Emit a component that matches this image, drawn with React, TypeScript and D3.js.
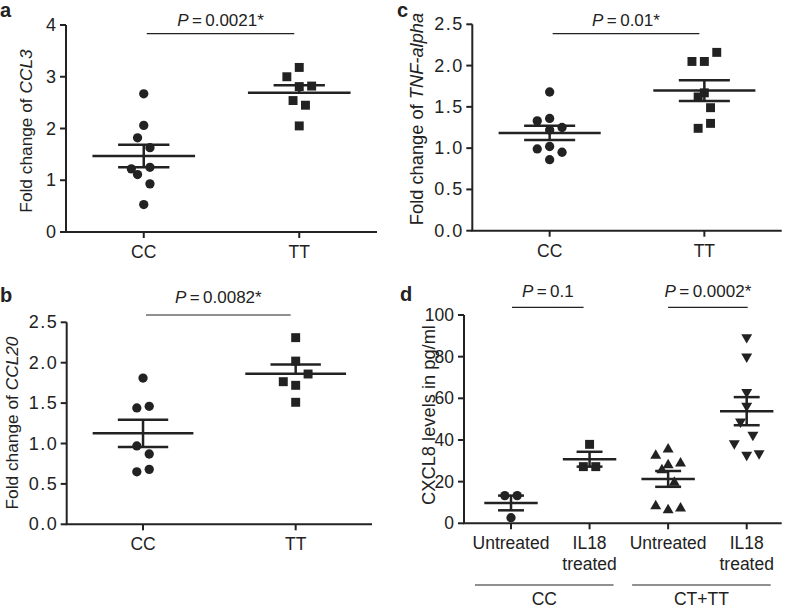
import React from "react";
import * as d3 from "d3";

// ---------- DATA ----------
const genotypeCats = ["CC", "TT"];

const aCC = [2.67, 2.06, 1.82, 1.63, 1.22, 1.25, 1.11, 0.93, 0.53];
const aCCcol = [0, 0, -1, 1, -2, 1, -1, 1, 0];
const aTT = [3.18, 3.0, 2.81, 2.82, 2.54, 2.45, 2.05];
const aTTcol = [0, -2, 0, 2, -1, 1, 0];

const bCC = [1.81, 1.44, 1.46, 0.97, 0.87, 0.65, 0.68];
const bCCcol = [0, -1, 1, -1, 1, -1, 1];
const bTT = [2.31, 2.02, 1.86, 1.765, 1.72, 1.51];
const bTTcol = [0, 0, 2, -2, 0, 0];

const cCC = [1.68, 1.33, 1.36, 1.25, 1.22, 0.99, 1.02, 0.95, 0.86];
const cCCcol = [0, -2, 0, 2, 0, -2, 0, 2, 0];
const cTT = [2.05, 2.05, 2.16, 1.67, 1.62, 1.49, 1.3, 1.24];
const cTTcol = [-2, 0, 2, 0, -1, 1, 1, -1];

const dTickLabels = [["Untreated"], ["IL18", "treated"], ["Untreated"], ["IL18", "treated"]];
const dGroupLabels = ["CC", "CT+TT"];
const d1 = [13.3, 13.3, 2.7];
const d1col = [-1, 1, 0];
const d2 = [37.9, 27.2, 27.2];
const d2col = [0, -1, 1];
const d3v = [32.5, 35.5, 28.8, 28.0, 25.6, 19.5, 8.3, 6.4, 7.2];
const d3col = [-2, 0, 2, 0, -1, 1, -2, 0, 2];
const d4 = [89.3, 80.0, 62.9, 56.3, 48.8, 38.4, 42.4, 32.8, 33.6];
const d4col = [0, 0, 0, 0, -1, -2, 1, 0, 2];

const pA = "0.0021*";
const pB = "0.0082*";
const pC = "0.01*";
const pD1 = "0.1";
const pD2 = "0.0002*";

const ticksAB4 = [0, 1, 2, 3, 4];
const ticks25 = [0, 0.5, 1.0, 1.5, 2.0, 2.5];
const ticks100 = [0, 20, 40, 60, 80, 100];

// ---------- STYLE ----------
const INK = "#222";
const FONT = "'Liberation Sans', Arial, Helvetica, sans-serif";
const COL = 6.2; // jitter column spacing (px)

type Group = {
  values: number[];
  cols: number[];
  shape: "circle" | "square" | "up" | "down";
  showLower?: boolean;
};

function symbolPath(shape: Group["shape"]) {
  if (shape === "circle") return d3.symbol(d3.symbolCircle, 68)()!;
  if (shape === "square") return d3.symbol(d3.symbolSquare, 80)()!;
  return d3.symbol(d3.symbolTriangle, 52)()!;
}

function Groups({ groups, xs, y, halfLong, halfShort }: any) {
  return (
    <g>
      {groups.map((g: Group, gi: number) => {
        const cx = xs[gi];
        const m = d3.mean(g.values)!;
        const sem = d3.deviation(g.values)! / Math.sqrt(g.values.length);
        const path = symbolPath(g.shape);
        return (
          <g key={gi}>
            {g.values.map((v, i) => (
              <path
                key={i}
                d={path}
                fill={INK}
                transform={`translate(${cx + g.cols[i] * COL},${y(v)})${g.shape === "down" ? " rotate(180)" : ""}`}
              />
            ))}
            <line x1={cx - halfLong} x2={cx + halfLong} y1={y(m)} y2={y(m)} stroke={INK} strokeWidth={2.5} />
            <line x1={cx - halfShort} x2={cx + halfShort} y1={y(m + sem)} y2={y(m + sem)} stroke={INK} strokeWidth={2.5} />
            {g.showLower !== false && (
              <line x1={cx - halfShort} x2={cx + halfShort} y1={y(m - sem)} y2={y(m - sem)} stroke={INK} strokeWidth={2.5} />
            )}
            <line
              x1={cx}
              x2={cx}
              y1={y(m + sem)}
              y2={g.showLower !== false ? y(m - sem) : y(m)}
              stroke={INK}
              strokeWidth={2.5}
            />
          </g>
        );
      })}
    </g>
  );
}

function YAxis({ y, x0, ticks, fmt, size = 18, spacing = 0 }: any) {
  const [b, t] = y.range();
  return (
    <g>
      <line x1={x0} x2={x0} y1={t} y2={b} stroke={INK} strokeWidth={2} />
      {ticks.map((v: number) => (
        <g key={v}>
          <line x1={x0 - 6} x2={x0} y1={y(v)} y2={y(v)} stroke={INK} strokeWidth={2} />
          <text
            x={x0 - 10 + spacing}
            y={y(v)}
            textAnchor="end"
            dominantBaseline="central"
            fontSize={size}
            letterSpacing={spacing}
            fill={INK}
          >
            {fmt(v)}
          </text>
        </g>
      ))}
    </g>
  );
}

function XAxis({ x0, x1, yb, xs }: any) {
  return (
    <g>
      <line x1={x0 - 1} x2={x1} y1={yb} y2={yb} stroke={INK} strokeWidth={2} />
      {xs.map((cx: number, i: number) => (
        <line key={i} x1={cx} x2={cx} y1={yb} y2={yb + 6} stroke={INK} strokeWidth={2} />
      ))}
    </g>
  );
}

function PLabel({ x1, x2, lineY, textY, value }: any) {
  return (
    <g>
      <line x1={x1} x2={x2} y1={lineY} y2={lineY} stroke={INK} strokeWidth={1.2} />
      <text x={(x1 + x2) / 2} y={textY} textAnchor="middle" fontSize={17} fill={INK}>
        <tspan fontStyle="italic">P</tspan>
        {"\u2009=\u2009" + value}
      </text>
    </g>
  );
}

function YTitle({ cx, cy, plain, italic, size = 17 }: any) {
  return (
    <text
      transform={`translate(${cx},${cy}) rotate(-90)`}
      textAnchor="middle"
      dominantBaseline="central"
      fontSize={size}
      fill={INK}
    >
      {plain}
      {italic && <tspan fontStyle="italic">{italic}</tspan>}
    </text>
  );
}

function TwoGroupPanel({
  left, right, top, bottom, max, ticks, fmt, tickSpacing, groups, italic,
  titleX, titleY, titleSize, p, pLineY, pTextY,
}: any) {
  const x = d3.scalePoint<string>().domain(genotypeCats).range([left, right]).padding(0.5);
  const y = d3.scaleLinear().domain([0, max]).range([bottom, top]);
  const xs = genotypeCats.map((c) => x(c)!);
  const step = x.step();
  return (
    <g>
      <Groups groups={groups} xs={xs} y={y} halfLong={step * 0.33} halfShort={step * 0.165} />
      <YAxis y={y} x0={left} ticks={ticks} fmt={fmt} spacing={tickSpacing} />
      <XAxis x0={left} x1={right} yb={bottom} xs={xs} />
      {genotypeCats.map((c, i) => (
        <text key={c} x={xs[i]} y={bottom + 26} textAnchor="middle" fontSize={17.5} fill={INK}>
          {c}
        </text>
      ))}
      <YTitle cx={titleX} cy={titleY} plain="Fold change of " italic={italic} size={titleSize} />
      <PLabel x1={xs[0] + 3} x2={xs[1] - 5} lineY={pLineY} textY={pTextY} value={p} />
    </g>
  );
}

export default function App() {
  // Panel d
  const dLeft = 464, dRight = 781.7, dTop = 315, dBottom = 523.3;
  const dx = d3.scalePoint<number>().domain([0, 1, 2, 3]).range([dLeft + 47, dRight - 35]);
  const dy = d3.scaleLinear().domain([0, 100]).range([dBottom, dTop]);
  const dxs = [0, 1, 2, 3].map((i) => dx(i)!);
  const dStep = dx.step();
  const dGroups: Group[] = [
    { values: d1, cols: d1col, shape: "circle" },
    { values: d2, cols: d2col, shape: "square" },
    { values: d3v, cols: d3col, shape: "up" },
    { values: d4, cols: d4col, shape: "down" },
  ];

  return (
    <svg width={788} height={610} style={{ position: "absolute", left: 0, top: 0, background: "#fff" }} fontFamily={FONT}>
      <rect width={788} height={610} fill="#fff" />
      {/* panel labels */}
      <text x={0} y={17} fontSize={20} fontWeight="bold" fill={INK}>a</text>
      <text x={397} y={17} fontSize={20} fontWeight="bold" fill={INK}>c</text>
      <text x={0} y={302} fontSize={20} fontWeight="bold" fill={INK}>b</text>
      <text x={400} y={301} fontSize={20} fontWeight="bold" fill={INK}>d</text>

      <TwoGroupPanel
        left={66} right={377} top={25} bottom={232} max={4}
        ticks={ticksAB4} fmt={d3.format("d")} tickSpacing={0}
        groups={[
          { values: aCC, cols: aCCcol, shape: "circle" },
          { values: aTT, cols: aTTcol, shape: "square", showLower: false },
        ]}
        italic="CCL3" titleX={26} titleY={131} titleSize={17.3} p={pA} pLineY={33.7} pTextY={26}
      />
      <TwoGroupPanel
        left={66.7} right={372} top={322.3} bottom={524.3} max={2.5}
        ticks={ticks25} fmt={d3.format(".1f")} tickSpacing={1.5}
        groups={[
          { values: bCC, cols: bCCcol, shape: "circle" },
          { values: bTT, cols: bTTcol, shape: "square", showLower: false },
        ]}
        italic="CCL20" titleX={12} titleY={423} titleSize={17.3} p={pB} pLineY={315} pTextY={303}
      />
      <TwoGroupPanel
        left={472.3} right={781.7} top={24.3} bottom={230.7} max={2.5}
        ticks={ticks25} fmt={d3.format(".1f")} tickSpacing={1.5}
        groups={[
          { values: cCC, cols: cCCcol, shape: "circle" },
          { values: cTT, cols: cTTcol, shape: "square" },
        ]}
        italic="TNF-alpha" titleX={416} titleY={119} titleSize={18.3} p={pC} pLineY={33.7} pTextY={26}
      />

      {/* Panel d */}
      <g>
        <Groups groups={dGroups} xs={dxs} y={dy} halfLong={dStep * 0.34} halfShort={dStep * 0.165} />
        <YAxis y={dy} x0={dLeft} ticks={ticks100} fmt={d3.format("d")} size={17.5} />
        <XAxis x0={dLeft} x1={dRight} yb={dBottom} xs={dxs} />
        {dTickLabels.map((lines, i) => (
          <text key={i} x={dxs[i]} y={dBottom + 26} textAnchor="middle" fontSize={17.5} fill={INK}>
            {lines.map((l, j) => (
              <tspan key={j} x={dxs[i]} dy={j === 0 ? 0 : 21}>{l}</tspan>
            ))}
          </text>
        ))}
        {dGroupLabels.map((g, k) => {
          const xa = dxs[k * 2] - 36;
          const xb = dxs[k * 2 + 1] + 24;
          return (
            <g key={g}>
              <line x1={xa} x2={xb} y1={585} y2={585} stroke={INK} strokeWidth={1.2} />
              <text x={(xa + xb) / 2} y={605} textAnchor="middle" fontSize={17.5} fill={INK}>{g}</text>
            </g>
          );
        })}
        <YTitle cx={428} cy={415} plain="CXCL8 levels in pg/ml" size={18.3} />
        <PLabel x1={dxs[0] + 1} x2={dxs[1] - 6} lineY={307.3} textY={297} value={pD1} />
        <PLabel x1={dxs[2]} x2={dxs[3] + 1} lineY={307.3} textY={297} value={pD2} />
      </g>
    </svg>
  );
}
